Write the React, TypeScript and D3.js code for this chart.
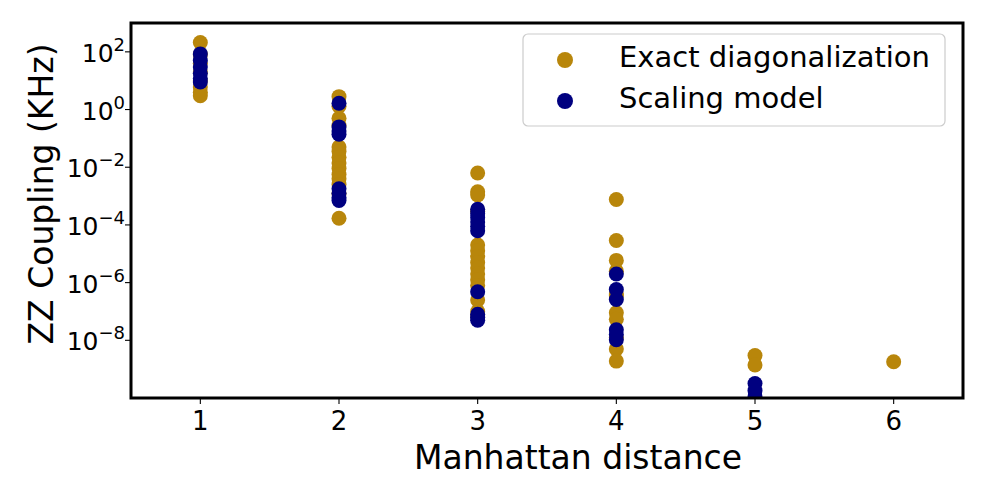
import React from "react";
import * as d3 from "d3";

const xTicks = [1, 2, 3, 4, 5, 6];
const yTickExps = [2, 0, -2, -4, -6, -8];

// Exact diagonalization
const edX = [
  1, 1, 1, 1, 1, 1, 1, 1,
  2, 2, 2, 2, 2, 2, 2, 2, 2, 2, 2, 2, 2, 2,
  3, 3, 3, 3, 3, 3, 3, 3, 3, 3, 3, 3, 3, 3, 3,
  4, 4, 4, 4, 4, 4, 4, 4, 4, 4, 4,
  5, 5,
  6,
];
const edY = [
  210, 80, 40, 20, 10, 6, 4, 3,
  2.8, 1.3, 0.5, 0.28, 0.05, 0.035, 0.022, 0.014, 0.009, 0.0056, 0.004, 0.0025, 1.2e-3, 1.7e-4,
  6.3e-3, 1.4e-3, 1.1e-3, 3e-4, 2e-5, 1.26e-5, 8e-6, 5e-6, 3.2e-6, 2e-6, 1.26e-6, 8e-7, 2.5e-7, 1e-7, 7e-8,
  7.6e-4, 2.9e-5, 5.9e-6, 2.5e-6, 4e-7, 9e-8, 5.4e-8, 1.26e-8, 5e-9, 1.9e-9, 3.5e-7,
  2.95e-9, 1.4e-9,
  1.8e-9,
];

// Scaling model
const smX = [
  1, 1, 1, 1, 1, 1,
  2, 2, 2, 2, 2, 2, 2, 2,
  3, 3, 3, 3, 3, 3, 3, 3, 3, 3,
  4, 4, 4, 4, 4, 4,
  5, 5, 5,
];
const smY = [
  85, 50, 30, 18, 12, 9,
  1.65, 0.25, 0.18, 0.14, 1.8e-3, 1.25e-3, 9e-4, 7e-4,
  3.5e-4, 2.5e-4, 1.8e-4, 1.26e-4, 9e-5, 6.3e-5, 4.8e-7, 8e-8, 6.3e-8, 5e-8,
  2e-6, 5.8e-7, 2.6e-7, 2.3e-8, 1.6e-8, 1.05e-8,
  3.2e-10, 1.8e-10, 1.1e-10,
];

const seriesNames = ["Exact diagonalization", "Scaling model"];
const seriesColors = ["#b8860b", "#000080"];

const W = 996;
const H = 503;
const M = { left: 131, right: 963, top: 23, bottom: 398 };
const FONT = "DejaVu Sans";

export default function App() {
  const x = d3.scaleLinear().domain([0.5, 6.5]).range([M.left, M.right]);
  const y = d3.scaleLog().domain([1e-10, 1e3]).range([M.bottom, M.top]);
  const r = 7.5;

  const ed = edX.map((v, i) => ({ x: v, y: edY[i] }));
  const sm = smX.map((v, i) => ({ x: v, y: smY[i] }));

  return (
    <svg
      width={W}
      height={H}
      style={{ position: "absolute", left: 0, top: 0, background: "#fff" }}
      fontFamily={FONT}
    >
      <defs>
        <clipPath id="plotclip">
          <rect x={M.left} y={M.top} width={M.right - M.left} height={M.bottom - M.top} />
        </clipPath>
      </defs>
      <rect x={0} y={0} width={W} height={H} fill="#fff" />
      <g clipPath="url(#plotclip)">
        {ed.map((d, i) => (
          <circle key={"e" + i} cx={x(d.x)} cy={y(d.y)} r={r} fill={seriesColors[0]} />
        ))}
        {sm.map((d, i) => (
          <circle key={"s" + i} cx={x(d.x)} cy={y(d.y)} r={r} fill={seriesColors[1]} />
        ))}
      </g>
      {/* x ticks */}
      {xTicks.map((t) => (
        <g key={"xt" + t}>
          <line x1={x(t)} x2={x(t)} y1={M.bottom} y2={M.bottom + 6} stroke="#000" strokeWidth={1.1} />
          <text x={x(t)} y={430} textAnchor="middle" fontSize={26}>
            {t}
          </text>
        </g>
      ))}
      {/* y ticks */}
      {yTickExps.map((e) => {
        const yy = y(Math.pow(10, e));
        return (
          <g key={"yt" + e}>
            <line x1={M.left - 6} x2={M.left} y1={yy} y2={yy} stroke="#000" strokeWidth={1.1} />
            <text x={125} y={yy + 10} textAnchor="end" fontSize={25}>
              <tspan>10</tspan>
              <tspan dy={-11} fontSize={18}>
                {e < 0 ? "\u2212" + Math.abs(e) : String(e)}
              </tspan>
            </text>
          </g>
        );
      })}
      {/* frame */}
      <rect
        x={M.left}
        y={M.top}
        width={M.right - M.left}
        height={M.bottom - M.top}
        fill="none"
        stroke="#000"
        strokeWidth={3}
      />
      {/* axis labels */}
      <text x={578} y={469} textAnchor="middle" fontSize={33}>
        Manhattan distance
      </text>
      <text transform={`translate(53, 194) rotate(-90)`} textAnchor="middle" fontSize={33}>
        ZZ Coupling (KHz)
      </text>
      {/* legend */}
      <rect x={523} y={34} width={422} height={92} rx={5} fill="#fff" fillOpacity={0.8} stroke="#cccccc" strokeWidth={1.2} />
      {seriesNames.map((n, i) => (
        <g key={"lg" + i}>
          <circle cx={565} cy={60 + i * 41} r={8} fill={seriesColors[i]} />
          <text x={619} y={67 + i * 41} fontSize={29}>
            {n}
          </text>
        </g>
      ))}
    </svg>
  );
}
